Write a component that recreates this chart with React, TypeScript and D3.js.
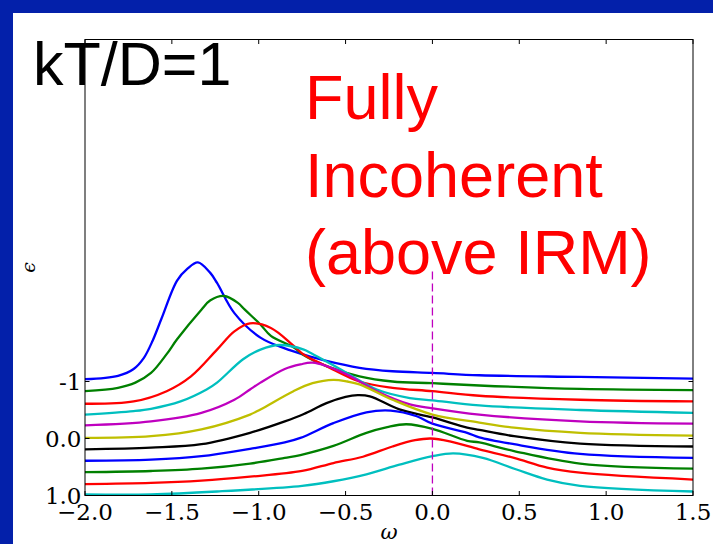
import React from "react";
import * as d3 from "d3";

const W = 713;
const H = 544;

const xTicks = [-2.0, -1.5, -1.0, -0.5, 0.0, 0.5, 1.0, 1.5];
const yTicks = [-1, 0, 1];
const yTickLabels = ["-1", "0.0", "1.0"];

const seriesColors = [
  "#0000ff", "#008000", "#ff0000", "#00bfbf", "#bf00bf", "#bfbf00",
  "#000000", "#0000ff", "#008000", "#ff0000", "#00bfbf",
];

const s1: [number, number][] = [[-2,-1.04],[-1.81,-1.1],[-1.72,-1.22],[-1.66,-1.42],[-1.61,-1.72],[-1.56,-2.1],[-1.47,-2.77],[-1.41,-2.98],[-1.35,-3.09],[-1.28,-2.91],[-1.24,-2.73],[-1.14,-2.2],[-0.99,-1.77],[-0.85,-1.58],[-0.74,-1.47],[-0.61,-1.36],[-0.42,-1.24],[-0.23,-1.18],[0,-1.15],[0.27,-1.11],[0.85,-1.08],[1.5,-1.05]];
const s2: [number, number][] = [[-2,-0.83],[-1.81,-0.89],[-1.71,-0.98],[-1.62,-1.15],[-1.53,-1.48],[-1.47,-1.74],[-1.33,-2.26],[-1.28,-2.42],[-1.2,-2.5],[-1.12,-2.38],[-1.08,-2.26],[-0.99,-2.0],[-0.93,-1.8],[-0.8,-1.6],[-0.74,-1.46],[-0.61,-1.27],[-0.42,-1.09],[-0.23,-1.0],[0,-0.97],[0.27,-0.93],[0.85,-0.87],[1.5,-0.85]];
const s3: [number, number][] = [[-2,-0.61],[-1.72,-0.65],[-1.53,-0.83],[-1.39,-1.09],[-1.24,-1.56],[-1.14,-1.88],[-1.05,-2.02],[-0.93,-1.94],[-0.8,-1.63],[-0.74,-1.47],[-0.61,-1.27],[-0.42,-1.0],[-0.23,-0.89],[0,-0.83],[0.27,-0.75],[0.85,-0.68],[1.5,-0.65]];
const s4: [number, number][] = [[-2,-0.42],[-1.72,-0.48],[-1.62,-0.52],[-1.45,-0.65],[-1.3,-0.86],[-1.24,-0.98],[-1.09,-1.39],[-0.99,-1.56],[-0.88,-1.64],[-0.74,-1.56],[-0.7,-1.5],[-0.51,-1.18],[-0.32,-0.86],[-0.13,-0.71],[0,-0.67],[0.27,-0.58],[0.85,-0.5],[1.5,-0.45]];
const s5: [number, number][] = [[-2,-0.23],[-1.62,-0.3],[-1.33,-0.45],[-1.14,-0.68],[-1.05,-0.86],[-0.99,-0.98],[-0.85,-1.22],[-0.76,-1.3],[-0.69,-1.33],[-0.51,-1.15],[-0.32,-0.83],[-0.13,-0.6],[0,-0.53],[0.27,-0.42],[0.85,-0.3],[1.5,-0.26]];
const s6: [number, number][] = [[-2,-0.01],[-1.62,-0.04],[-1.33,-0.16],[-1.05,-0.42],[-0.99,-0.51],[-0.8,-0.83],[-0.69,-0.97],[-0.57,-1.03],[-0.49,-1.0],[-0.42,-0.95],[-0.23,-0.68],[0,-0.42],[0.27,-0.28],[0.47,-0.19],[0.85,-0.1],[1.5,-0.05]];
const s7: [number, number][] = [[-2,0.19],[-1.62,0.16],[-1.33,0.1],[-1.05,-0.1],[-0.85,-0.3],[-0.74,-0.43],[-0.61,-0.62],[-0.5,-0.73],[-0.43,-0.76],[-0.36,-0.74],[-0.19,-0.51],[0,-0.37],[0.2,-0.19],[0.27,-0.15],[0.47,-0.04],[0.85,0.09],[1.5,0.14]];
const s8: [number, number][] = [[-2,0.39],[-1.62,0.37],[-1.33,0.31],[-1.05,0.18],[-0.85,0.07],[-0.76,-0.01],[-0.57,-0.27],[-0.38,-0.46],[-0.24,-0.49],[-0.09,-0.39],[0,-0.26],[0.2,-0.1],[0.27,-0.02],[0.47,0.1],[0.85,0.27],[1.5,0.34]];
const s9: [number, number][] = [[-2,0.59],[-1.62,0.57],[-1.33,0.53],[-1.05,0.44],[-0.85,0.34],[-0.76,0.29],[-0.57,0.13],[-0.38,-0.1],[-0.26,-0.2],[-0.15,-0.25],[0,-0.17],[0.2,0.04],[0.27,0.07],[0.47,0.22],[0.85,0.44],[1.5,0.53]];
const s10: [number, number][] = [[-2,0.8],[-1.62,0.78],[-1.33,0.74],[-1.05,0.67],[-0.75,0.57],[-0.57,0.43],[-0.4,0.32],[-0.23,0.14],[-0.1,0.03],[-0.01,0.0],[0.1,0.05],[0.27,0.19],[0.47,0.34],[0.66,0.51],[0.85,0.6],[1.5,0.72]];
const s11: [number, number][] = [[-2,0.98],[-1.62,0.98],[-1.24,0.93],[-0.75,0.83],[-0.57,0.75],[-0.38,0.63],[-0.19,0.46],[0,0.31],[0.12,0.26],[0.29,0.34],[0.48,0.54],[0.66,0.72],[0.85,0.83],[1.5,0.93]];

const allSeries = [s1, s2, s3, s4, s5, s6, s7, s8, s9, s10, s11];

const markerX = 0;
const markerY = [-2.93, 1.0];

const titleText = "kT/D=1";
const noteLines = ["Fully", "Incoherent", "(above IRM)"];

export default function App() {
  const left = 85, right = 693, top = 39.5, bottom = 495.5;
  const x = d3.scaleLinear().domain([-2, 1.5]).range([left, right]);
  const y = d3.scaleLinear().domain([1, -7]).range([bottom, top]);
  const line = d3
    .line<[number, number]>()
    .x((d) => x(d[0]))
    .y((d) => y(d[1]))
    .curve(d3.curveCatmullRom.alpha(0.5));
  const tickLen = 4.5;
  const fmt = (v: number) => (v < 0 ? "\u2212" : "") + Math.abs(v).toFixed(1);
  const serif = "'DejaVu Serif', serif";
  const sans = "'Liberation Sans', Arial, sans-serif";

  return (
    <svg
      width={W}
      height={H}
      style={{ position: "absolute", left: 0, top: 0, background: "#fff" }}
    >
      <rect x={0} y={0} width={W} height={H} fill="#ffffff" />
      <rect x={0} y={0} width={W} height={13} fill="#0320aa" />
      <rect x={0} y={0} width={13} height={H} fill="#0320aa" />
      <defs>
        <clipPath id="plotclip">
          <rect x={left} y={top} width={right - left} height={bottom - top} />
        </clipPath>
      </defs>
      <g clipPath="url(#plotclip)">
        {allSeries.map((s, i) => (
          <path
            key={i}
            d={line(s) || ""}
            fill="none"
            stroke={seriesColors[i]}
            strokeWidth={2.3}
          />
        ))}
        <line
          x1={x(markerX)}
          x2={x(markerX)}
          y1={y(markerY[0])}
          y2={y(markerY[1])}
          stroke="#bf00bf"
          strokeWidth={1.3}
          strokeDasharray="8,4"
        />
      </g>
      <rect
        x={left}
        y={top}
        width={right - left}
        height={bottom - top}
        fill="none"
        stroke="#000"
        strokeWidth={1}
      />
      {xTicks.map((t) => (
        <g key={"x" + t}>
          <line x1={x(t)} x2={x(t)} y1={bottom} y2={bottom - tickLen} stroke="#000" />
          <line x1={x(t)} x2={x(t)} y1={top} y2={top + tickLen} stroke="#000" />
          <text
            x={x(t)}
            y={519.5}
            textAnchor="middle"
            fontFamily={serif}
            fontSize={23}
            fill="#000"
          >
            {fmt(t)}
          </text>
        </g>
      ))}
      {yTicks.map((t, i) => (
        <g key={"y" + t}>
          <line x1={left} x2={left + tickLen} y1={y(t)} y2={y(t)} stroke="#000" />
          <line x1={right} x2={right - tickLen} y1={y(t)} y2={y(t)} stroke="#000" />
          <text
            x={81.5}
            y={y(t)}
            dy="0.36em"
            textAnchor="end"
            fontFamily={serif}
            fontSize={23}
            fill="#000"
          >
            {yTickLabels[i]}
          </text>
        </g>
      ))}
      <text
        x={(left + right) / 2}
        y={539}
        textAnchor="middle"
        fontFamily={serif}
        fontStyle="italic"
        fontSize={21}
        fill="#000"
      >
        ω
      </text>
      <text
        transform={`translate(35,${(top + bottom) / 2}) rotate(-90)`}
        textAnchor="middle"
        fontFamily={serif}
        fontStyle="italic"
        fontSize={19}
        fill="#000"
      >
        ϵ
      </text>
      <text x={33} y={85} fontFamily={sans} fontSize={61} fill="#000">
        {titleText}
      </text>
      {noteLines.map((l, i) => (
        <text
          key={l}
          x={305}
          y={119.3 + i * 77.2}
          fontFamily={sans}
          fontSize={63}
          fill="#ff0000"
        >
          {l}
        </text>
      ))}
    </svg>
  );
}
